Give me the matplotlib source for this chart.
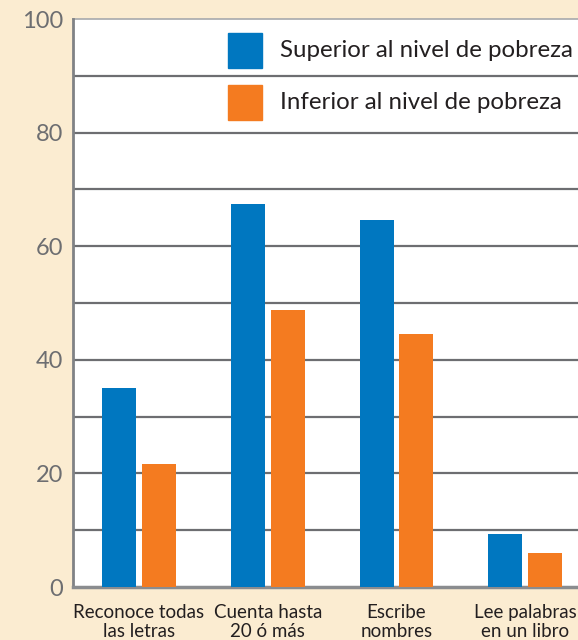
import matplotlib.pyplot as plt
from matplotlib.patches import Rectangle
import numpy as np

categories = ["Reconoce todas\nlas letras", "Cuenta hasta\n20 ó más",
              "Escribe\nnombres", "Lee palabras\nen un libro"]
superior = [35.0, 67.4, 64.6, 9.3]
inferior = [21.7, 48.8, 44.5, 6.0]
series_names = ["Superior al nivel de pobreza", "Inferior al nivel de pobreza"]
y_ticks = [0, 20, 40, 60, 80, 100]

blue = "#0077c0"
orange = "#f47b20"
bg = "#fbecd1"
grid_col = "#6d6e71"

plt.rcParams['font.family'] = ['Lato', 'DejaVu Sans']

fig = plt.figure(figsize=(5.78, 6.4), dpi=100, facecolor=bg)
W, H = 578, 640
ax = fig.add_axes([73 / W, (H - 587) / H, (W - 73) / W, (587 - 19) / H])
ax.set_facecolor("white")

x = np.arange(len(categories))
w = 0.264
off = 0.155
ax.bar(x - off, superior, w, color=blue, zorder=3)
ax.bar(x + off, inferior, w, color=orange, zorder=3)

ax.set_xlim(-0.513, 3.41)
ax.set_ylim(0, 100)

for v in range(10, 100, 10):
    ax.axhline(v, color=grid_col, lw=1.6, zorder=1)
ax.axhline(100, color="#a7a9ac", lw=1.2, zorder=1, clip_on=False)

for s in ["top", "right"]:
    ax.spines[s].set_visible(False)
ax.spines["left"].set_color("#808285")
ax.spines["left"].set_linewidth(2)
ax.spines["bottom"].set_color("#8a8c8f")
ax.spines["bottom"].set_linewidth(2.5)

ax.set_yticks(y_ticks)
ax.set_yticklabels([str(t) for t in y_ticks], fontsize=17, color=grid_col)
ax.tick_params(axis="y", length=0, pad=7)
ax.set_xticks(x)
ax.set_xticklabels(categories, fontsize=13.5, color="#231f20", linespacing=1.2)
ax.tick_params(axis="x", length=0, pad=12)

# legend drawn by hand
for i, (name, col) in enumerate(zip(series_names, [blue, orange])):
    top = 33 + i * 52
    fig.patches.append(Rectangle((228 / W, (H - top - 35) / H), 34 / W, 35 / H,
                                 transform=fig.transFigure, color=col, zorder=5))
    fig.text(280 / W, (H - top - 17.5) / H, name, fontsize=17.3, color="#231f20",
             va="center", ha="left", zorder=6)

fig.savefig("out.png", dpi=100, facecolor=bg)
